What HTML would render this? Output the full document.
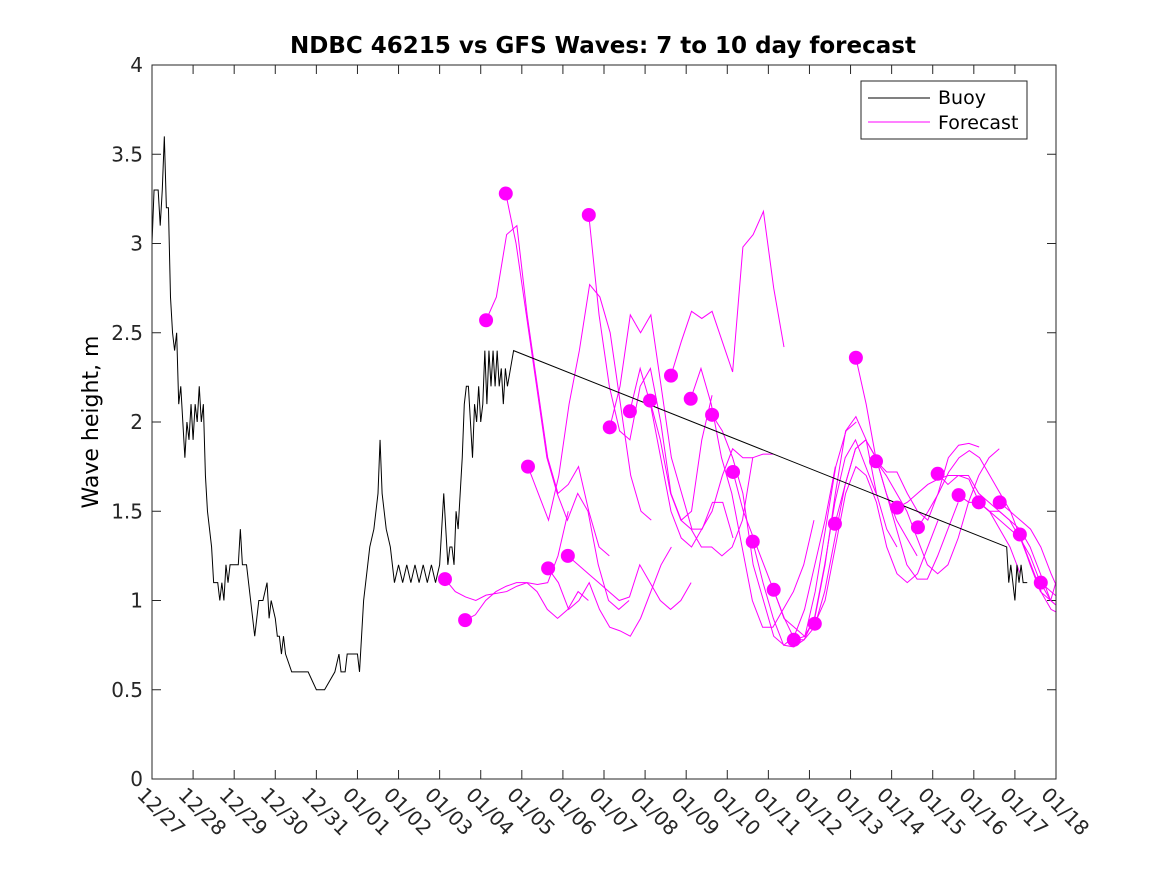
<!DOCTYPE html>
<html><head><meta charset="utf-8"><style>
body{margin:0;background:#fff}
svg{font-family:"DejaVu Sans","Liberation Sans",sans-serif}
</style></head><body>
<svg id="chart" width="1167" height="875">
<rect x="0" y="0" width="1167" height="875" fill="#fff"/>
<text x="603" y="53" text-anchor="middle" font-size="23" font-weight="bold">NDBC 46215 vs GFS Waves: 7 to 10 day forecast</text>
<text transform="translate(98,422) rotate(-90)" text-anchor="middle" font-size="22">Wave height, m</text>
<defs><clipPath id="pc"><rect x="152" y="65" width="904" height="714"/></clipPath></defs>
<g id="axes"></g>
<g id="marks" clip-path="url(#pc)"></g>
<g id="dots"></g>
<rect x="152" y="65" width="904" height="714" fill="none" stroke="#262626"/>
<g>
<rect x="861" y="81" width="166" height="58" fill="#fff" stroke="#262626"/>
<line x1="868" y1="98" x2="930" y2="98" stroke="#000"/>
<text x="938" y="104" font-size="19">Buoy</text>
<line x1="868" y1="122" x2="930" y2="122" stroke="#f0f"/>
<text x="938" y="129" font-size="19">Forecast</text>
</g>
</svg>
<script>
const xTickLabels=["12/27","12/28","12/29","12/30","12/31","01/01","01/02","01/03","01/04","01/05","01/06","01/07","01/08","01/09","01/10","01/11","01/12","01/13","01/14","01/15","01/16","01/17","01/18"];
const yTicks=[0,0.5,1,1.5,2,2.5,3,3.5,4];
const buoyDays=[0,0.05,0.15,0.2,0.25,0.3,0.35,0.4,0.45,0.5,0.55,0.6,0.65,0.7,0.75,0.8,0.85,0.9,0.95,1.0,1.05,1.1,1.15,1.2,1.25,1.3,1.35,1.4,1.45,1.5,1.6,1.65,1.7,1.75,1.8,1.85,1.9,2.0,2.1,2.15,2.2,2.3,2.35,2.4,2.45,2.5,2.55,2.6,2.7,2.8,2.85,2.9,3.0,3.05,3.1,3.15,3.2,3.25,3.4,3.6,3.8,4.0,4.2,4.45,4.55,4.6,4.7,4.75,5.0,5.05,5.1,5.15,5.2,5.3,5.4,5.5,5.55,5.6,5.7,5.8,5.85,5.9,6.0,6.1,6.2,6.3,6.4,6.5,6.6,6.7,6.8,6.9,7.0,7.05,7.1,7.15,7.2,7.25,7.3,7.35,7.4,7.45,7.5,7.55,7.6,7.65,7.7,7.75,7.8,7.85,7.9,7.95,8.0,8.05,8.1,8.15,8.2,8.25,8.3,8.35,8.4,8.45,8.5,8.55,8.6,8.65,8.8,20.8,20.85,20.9,20.95,21.0,21.05,21.1,21.15,21.2,21.3];
const buoyVals=[3.0,3.3,3.3,3.1,3.3,3.6,3.2,3.2,2.7,2.5,2.4,2.5,2.1,2.2,2.0,1.8,2.0,1.9,2.1,1.9,2.1,2.0,2.2,2.0,2.1,1.7,1.5,1.4,1.3,1.1,1.1,1.0,1.1,1.0,1.2,1.1,1.2,1.2,1.2,1.4,1.2,1.2,1.1,1.0,0.9,0.8,0.9,1.0,1.0,1.1,0.9,1.0,0.9,0.8,0.8,0.7,0.8,0.7,0.6,0.6,0.6,0.5,0.5,0.6,0.7,0.6,0.6,0.7,0.7,0.6,0.8,1.0,1.1,1.3,1.4,1.6,1.9,1.6,1.4,1.3,1.2,1.1,1.2,1.1,1.2,1.1,1.2,1.1,1.2,1.1,1.2,1.1,1.2,1.4,1.6,1.4,1.2,1.3,1.3,1.2,1.5,1.4,1.6,1.8,2.1,2.2,2.2,2.0,1.8,2.1,2.0,2.2,2.0,2.1,2.4,2.1,2.4,2.2,2.4,2.2,2.4,2.2,2.3,2.1,2.3,2.2,2.4,1.3,1.1,1.2,1.1,1.0,1.2,1.1,1.2,1.1,1.1];
const fcStart=[7.13,7.62,8.13,8.61,9.15,9.64,10.12,10.63,11.14,11.63,12.12,12.63,13.11,13.63,14.14,14.62,15.13,15.62,16.13,16.62,17.13,17.62,18.13,18.64,19.12,19.63,20.12,20.63,21.12,21.63];
const fcVals=[
[1.12,1.05,1.02,1.0,1.03,1.04,1.05,1.08,1.1,1.09,1.1,1.25,1.5],
[0.89,0.92,1.0,1.05,1.08,1.1,1.1,1.05,0.95,0.9,0.95,1.05,1.0],
[2.57,2.7,3.05,3.1,2.6,2.2,1.8,1.6,1.65,1.75,1.5,1.3,1.25],
[3.28,3.0,2.6,2.2,1.8,1.6,1.45,1.6,1.5,1.2,1.0,0.95,1.0],
[1.75,1.6,1.45,1.7,2.1,2.4,2.77,2.7,2.5,2.1,1.7,1.5,1.45],
[1.18,1.1,0.95,1.0,1.1,0.95,0.85,0.83,0.8,0.9,1.05,1.2,1.3],
[1.25,1.2,1.15,1.1,1.05,1.0,1.02,1.2,1.1,1.0,0.95,1.0,1.1],
[3.16,2.6,2.2,1.95,1.9,2.2,2.3,2.0,1.6,1.45,1.5,1.9,2.15],
[1.97,2.2,2.6,2.5,2.6,2.2,1.8,1.6,1.4,1.4,1.55,1.55,1.35],
[2.06,2.3,2.1,1.8,1.5,1.35,1.3,1.4,1.5,1.7,1.85,1.8,1.8],
[2.12,1.9,1.6,1.45,1.4,1.3,1.3,1.25,1.3,1.45,1.8,1.82,1.82],
[2.26,2.45,2.62,2.58,2.62,2.45,2.28,2.98,3.05,3.18,2.75,2.42],
[2.13,2.3,2.1,1.8,1.6,1.3,1.0,0.85,0.85,0.95,1.05,1.2,1.45],
[2.04,1.95,1.8,1.6,1.2,1.0,0.8,0.75,0.8,0.95,1.2,1.45,1.75],
[1.72,1.5,1.35,1.2,1.05,0.9,0.78,0.8,1.05,1.4,1.75,1.95,2.0],
[1.33,1.1,0.9,0.75,0.74,0.78,0.9,1.2,1.55,1.8,1.9,1.75,1.6],
[1.06,0.9,0.85,0.8,0.9,1.2,1.6,1.95,2.03,1.9,1.6,1.4,1.3],
[0.78,0.78,0.85,1.05,1.35,1.65,1.85,1.9,1.8,1.6,1.45,1.35,1.25],
[0.87,1.0,1.3,1.6,1.75,1.7,1.55,1.3,1.15,1.1,1.15,1.3,1.45],
[1.43,1.65,1.85,1.9,1.8,1.6,1.4,1.2,1.12,1.12,1.25,1.4,1.55],
[2.36,2.1,1.78,1.72,1.72,1.6,1.5,1.45,1.6,1.8,1.87,1.88,1.86],
[1.78,1.7,1.6,1.5,1.35,1.2,1.15,1.2,1.35,1.55,1.7,1.8,1.85],
[1.52,1.55,1.6,1.65,1.68,1.7,1.7,1.68,1.55,1.5,1.4,1.3,1.15],
[1.41,1.5,1.6,1.72,1.8,1.84,1.8,1.7,1.6,1.5,1.35,1.2,1.05],
[1.71,1.65,1.7,1.7,1.6,1.55,1.5,1.45,1.4,1.3,1.15,1.0,0.95],
[1.59,1.55,1.55,1.5,1.45,1.4,1.35,1.2,1.05,0.95,0.92],
[1.55,1.5,1.5,1.45,1.35,1.25,1.1,1.0,0.95],
[1.55,1.5,1.45,1.4,1.3,1.15,1.02],
[1.37,1.2,1.05,1.0,1.2],
[1.10,1.05,1.0]];
const fcStep=0.25;
const NS="http://www.w3.org/2000/svg";
const X0=152,X1=1056,Y0=779,Y1=65,XMAX=22,YMAX=4;
function xs(d){return X0+d*(X1-X0)/XMAX;}
function ys(v){return Y0-v*(Y0-Y1)/YMAX;}
function mk(tag,attrs,parent){const e=document.createElementNS(NS,tag);for(const k in attrs)e.setAttribute(k,attrs[k]);parent.appendChild(e);return e;}
const axes=document.getElementById('axes'),marks=document.getElementById('marks'),dots=document.getElementById('dots');
xTickLabels.forEach((lab,i)=>{const x=xs(i);
 const t=mk('line',{x1:x,x2:x,y1:Y0,y2:Y0-9,stroke:'#262626'},axes);
 
 
 const t2=mk('line',{x1:x,x2:x,y1:Y1,y2:Y1+9,stroke:'#262626'},axes);
 
 
 const tx=mk('text',{transform:`translate(${x-16},${Y0+17}) rotate(45)`,'font-size':20,fill:'#262626'},axes);
 tx.textContent=lab;
 
 
});
yTicks.forEach(v=>{const y=ys(v);
 const t=mk('line',{x1:X0,x2:X0+9,y1:y,y2:y,stroke:'#262626'},axes);
 
 
 const t2=mk('line',{x1:X1,x2:X1-9,y1:y,y2:y,stroke:'#262626'},axes);
 
 
 const tx=mk('text',{x:X0-9,y:y+7,'text-anchor':'end','font-size':20,fill:'#262626'},axes);
 tx.textContent=String(v);
 
 
});
fcStart.forEach((s,i)=>{const pts=fcVals[i].map((v,j)=>xs(s+j*fcStep)+','+ys(v)).join(' ');
 const p=mk('polyline',{points:pts,fill:'none',stroke:'#f0f','stroke-width':1},marks);
 
 
 const c=mk('circle',{cx:xs(s),cy:ys(fcVals[i][0]),r:7,fill:'#f0f'},dots);
 
 
});
const bp=mk('polyline',{points:buoyDays.map((d,i)=>xs(d)+','+ys(buoyVals[i])).join(' '),fill:'none',stroke:'#000','stroke-width':1},marks);


</script>
</body></html>
